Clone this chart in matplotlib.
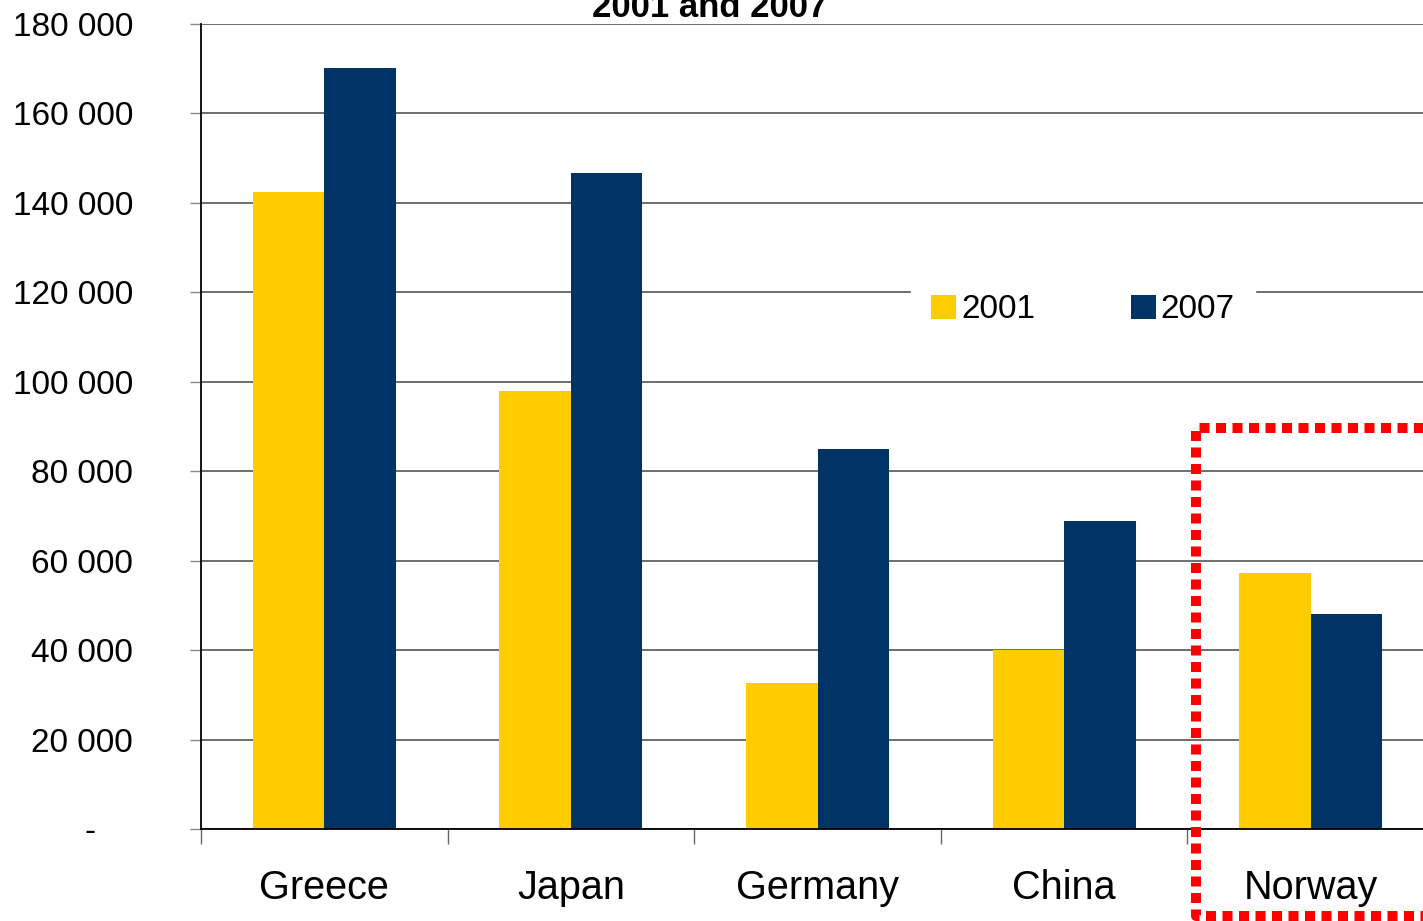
import matplotlib
matplotlib.use("Agg")
import matplotlib.pyplot as plt
from matplotlib.lines import Line2D
from matplotlib.patches import Patch
import numpy as np

plt.rcParams['font.family'] = ['Liberation Sans', 'DejaVu Sans']

categories = ["Greece", "Japan", "Germany", "China", "Norway"]
values_2001 = [142400, 97900, 32600, 40000, 57200]
values_2007 = [170200, 146700, 85000, 68900, 48100]
series_labels = ["2001", "2007"]
yticks = [0, 20000, 40000, 60000, 80000, 100000, 120000, 140000, 160000, 180000]
ytick_labels = ["-    ", "20 000", "40 000", "60 000", "80 000", "100 000",
                "120 000", "140 000", "160 000", "180 000"]
title = "2001 and 2007"

c2001 = "#FFCC00"
c2007 = "#003366"

W, H = 1423, 921
fig = plt.figure(figsize=(W / 100, H / 100), dpi=100)
ax = fig.add_axes([201 / W, 92 / H, 1233 / W, 805 / H])

x = np.arange(len(categories))
bw = 0.29
ax.bar(x - bw / 2, values_2001, width=bw, color=c2001, zorder=3, label=series_labels[0])
ax.bar(x + bw / 2, values_2007, width=bw, color=c2007, zorder=3, label=series_labels[1])

ax.set_xlim(-0.5, len(categories) - 0.5)
ax.set_ylim(0, 180000)

ax.set_yticks(yticks)
ax.set_yticklabels(ytick_labels, fontsize=24)
ax.tick_params(axis='y', length=8, width=1, color='#888888', pad=41)

ax.set_xticks(x)
ax.set_xticklabels(categories, fontsize=28.5)
ax.tick_params(axis='x', which='major', length=0, pad=29)
ax.set_xticks(np.arange(-0.5, len(categories), 1.0), minor=True)
ax.tick_params(axis='x', which='minor', length=11, width=1, color='#666666')

ax.grid(axis='y', color='#555555', linewidth=1.2, zorder=0)
ax.set_axisbelow(True)
for s in ['top', 'right']:
    ax.spines[s].set_visible(False)
ax.spines['left'].set_color('black')
ax.spines['bottom'].set_color('black')
ax.spines['left'].set_linewidth(1.3)
ax.spines['bottom'].set_linewidth(1.3)
ax.spines['bottom'].set_zorder(4)

handles = [Patch(facecolor=c2001, edgecolor='none'), Patch(facecolor=c2007, edgecolor='none')]
leg = ax.legend(handles, series_labels, loc='center', bbox_to_anchor=((1083 - 201) / 1233, (829 - 310) / 805),
                ncol=2, frameon=True, fontsize=24, handlelength=0.75, handleheight=0.75,
                handletextpad=0.15, columnspacing=2.87, borderpad=0.6, fancybox=False)
leg.get_frame().set_facecolor('white')
leg.get_frame().set_edgecolor('white')
leg.get_frame().set_alpha(1)
leg.set_zorder(5)

fig.text(710 / W, (H - 17) / H, title, ha='center', va='baseline', fontsize=25, fontweight='bold')

# red dotted highlight box around Norway
xs = [1480 / W, 1196 / W, 1196 / W, 1480 / W]
ys = [(H - 428) / H, (H - 428) / H, (H - 916) / H, (H - 916) / H]
fig.add_artist(Line2D(xs, ys, transform=fig.transFigure, color='#FF0000', linewidth=7.2,
                      linestyle=(0, (1.0, 0.65)), dash_capstyle='butt', solid_joinstyle='miter',
                      zorder=10))

fig.savefig("out.png", dpi=100)
